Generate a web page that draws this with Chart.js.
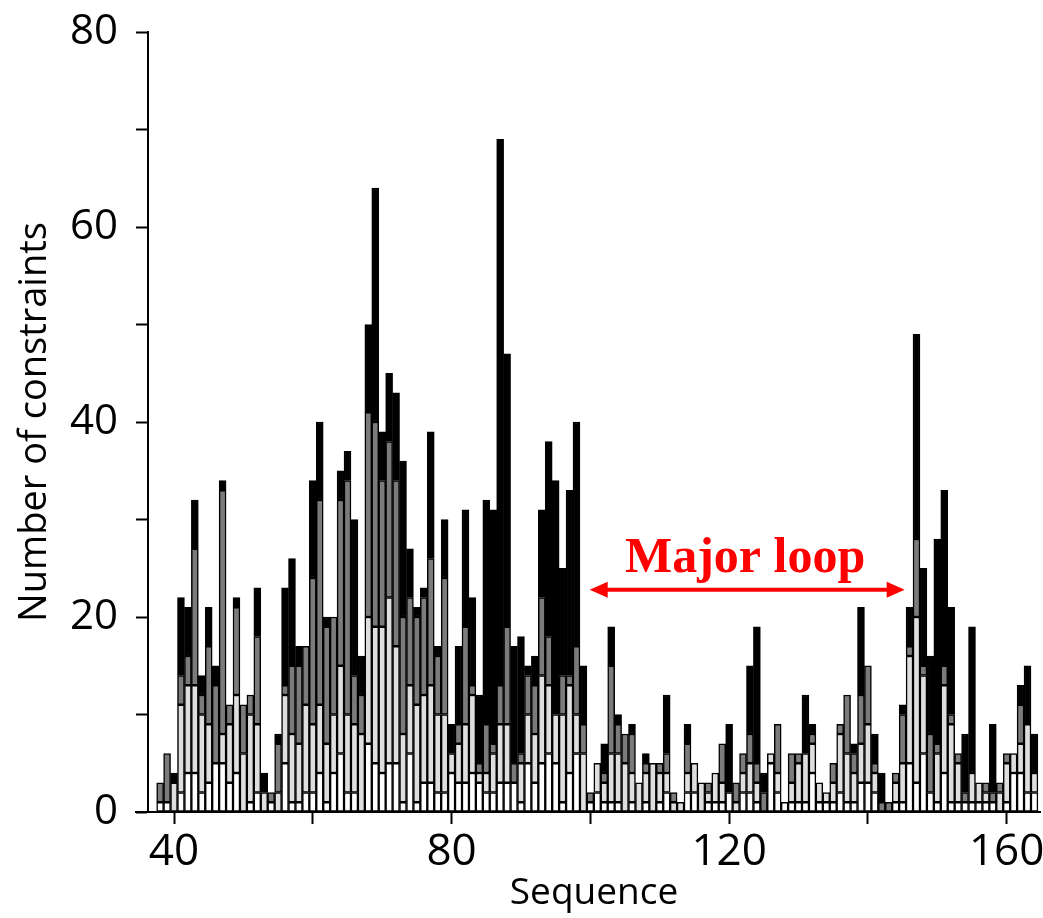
<!DOCTYPE html>
<html lang="en">
<head>
<meta charset="UTF-8" />
<title>Number of constraints per residue</title>
<script src="https://cdn.jsdelivr.net/npm/chart.js@4.4.0/dist/chart.umd.min.js"></script>
<style>
  html, body { margin: 0; padding: 0; background: #fff; }
</style>
</head>
<body>
<canvas id="constraintChart" width="1043" height="918"></canvas>
<script>
// residues 38..164, one value per residue in each class (bottom to top of the stack)
const firstResidue = 38;

const whitePart = [
  1, 1, 0, 2, 4, 4, 2, 3, 5, 5, 3, 4, 0, 1, 2, 0, 1, 0, 5, 1,   // 38-57
  1, 2, 2, 4, 1, 4, 6, 2, 2, 0, 7, 5, 4, 5, 5, 1, 6, 1, 3, 3,   // 58-77
  2, 2, 4, 3, 3, 4, 3, 2, 2, 3, 3, 3, 1, 5, 3, 5, 6, 5, 1, 4,   // 78-97
  6, 0, 1, 2, 1, 1, 1, 0, 1, 0, 1, 0, 1, 2, 0, 0, 2, 2, 0, 1,   // 98-117
  1, 1, 2, 0, 2, 2, 1, 0, 5, 2, 1, 1, 1, 1, 4, 1, 1, 1, 2, 1,   // 118-137
  1, 3, 3, 2, 0, 0, 1, 1, 5, 3, 6, 2, 1, 4, 1, 1, 1, 1, 1, 1,   // 138-157
  1, 0, 1, 4, 4, 2, 2                                           // 158-164
];
const lightPart = [
  0, 0, 3, 9, 9, 9, 8, 6, 0, 3, 6, 8, 6, 9, 7, 2, 0, 2, 7, 7,
  6, 9, 7, 7, 6, 6, 9, 8, 7, 8, 13, 14, 15, 17, 12, 7, 7, 10, 9, 10,
  8, 8, 2, 4, 6, 8, 1, 2, 4, 6, 6, 0, 4, 5, 5, 9, 7, 5, 9, 9,
  4, 6, 0, 3, 2, 5, 5, 5, 3, 3, 3, 5, 3, 2, 1, 1, 2, 3, 3, 1,
  3, 2, 0, 1, 2, 3, 2, 0, 1, 2, 0, 2, 4, 5, 3, 2, 1, 2, 6, 5,
  3, 4, 6, 2, 0, 0, 2, 4, 11, 17, 8, 0, 5, 9, 8, 4, 0, 3, 2, 1,
  0, 2, 4, 2, 3, 7, 2
];
const darkPart = [
  2, 5, 0, 3, 3, 14, 2, 8, 8, 25, 2, 9, 5, 2, 9, 0, 1, 5, 1, 7,
  8, 6, 15, 21, 12, 10, 17, 24, 5, 4, 21, 21, 15, 16, 17, 12, 9, 9, 10, 13,
  6, 14, 0, 2, 10, 1, 1, 5, 1, 4, 10, 2, 1, 4, 5, 8, 5, 0, 4, 1,
  7, 3, 1, 0, 1, 9, 3, 3, 4, 0, 1, 0, 1, 2, 1, 0, 3, 0, 0, 1,
  0, 4, 0, 2, 2, 3, 2, 2, 0, 5, 0, 3, 1, 0, 1, 0, 0, 2, 1, 6,
  2, 5, 6, 1, 1, 1, 1, 5, 1, 8, 1, 6, 1, 2, 1, 1, 1, 0, 0, 1,
  1, 1, 1, 0, 4, 0, 0
];
const blackPart = [
  0, 0, 1, 8, 5, 5, 2, 4, 2, 1, 0, 1, 0, 0, 5, 2, 0, 1, 10, 11,
  2, 0, 10, 8, 1, 0, 3, 3, 16, 4, 9, 24, 5, 7, 9, 16, 5, 1, 1, 13,
  1, 6, 3, 8, 12, 9, 7, 23, 24, 56, 28, 12, 12, 1, 3, 9, 20, 24, 11, 19,
  23, 6, 0, 0, 3, 4, 1, 0, 1, 0, 1, 0, 0, 6, 0, 0, 2, 0, 0, 0,
  0, 0, 7, 0, 0, 7, 14, 2, 0, 0, 0, 0, 0, 6, 1, 0, 0, 0, 0, 0,
  1, 9, 0, 3, 3, 0, 0, 1, 4, 21, 10, 8, 21, 18, 11, 0, 6, 15, 0, 0,
  7, 0, 0, 0, 2, 6, 4
];

const classNames = ["white", "light", "dark", "black"];
const classColors = ["#ffffff", "#dedede", "#7b7b7b", "#000000"];

// red "Major loop" marker (sequence / constraint units)
const loopStart = 99.9;
const loopEnd = 145.3;
const arrowLevel = 22.8;
const loopLabelAt = 122.3;
const loopLabelLevel = 24.6;

function toPoints(values) {
  return values.map((v, i) => ({ x: firstResidue + i, y: v }));
}

const loopArrow = {
  id: "loopArrow",
  afterDraw(chart) {
    const { ctx, chartArea } = chart;
    const xs = chart.scales.x;
    const ys = chart.scales.y;
    ctx.save();

    // x axis line runs a little past the y axis, as in the figure
    ctx.strokeStyle = "#000";
    ctx.lineWidth = 2;
    ctx.beginPath();
    ctx.moveTo(chartArea.left - 13, chartArea.bottom);
    ctx.lineTo(chartArea.left, chartArea.bottom);
    ctx.stroke();

    const x0 = xs.getPixelForValue(loopStart);
    const x1 = xs.getPixelForValue(loopEnd);
    const yy = ys.getPixelForValue(arrowLevel);
    ctx.strokeStyle = "#ff0000";
    ctx.fillStyle = "#ff0000";
    ctx.lineWidth = 4;
    ctx.beginPath();
    ctx.moveTo(x0 + 12, yy);
    ctx.lineTo(x1 - 12, yy);
    ctx.stroke();
    ctx.beginPath();
    ctx.moveTo(x0, yy);
    ctx.lineTo(x0 + 18, yy - 8);
    ctx.lineTo(x0 + 18, yy + 8);
    ctx.closePath();
    ctx.fill();
    ctx.beginPath();
    ctx.moveTo(x1, yy);
    ctx.lineTo(x1 - 18, yy - 8);
    ctx.lineTo(x1 - 18, yy + 8);
    ctx.closePath();
    ctx.fill();

    ctx.font = "bold 50px 'Liberation Serif'";
    ctx.textAlign = "center";
    ctx.textBaseline = "alphabetic";
    ctx.fillText("Major loop", xs.getPixelForValue(loopLabelAt), ys.getPixelForValue(loopLabelLevel));
    ctx.restore();
  }
};

const parts = [whitePart, lightPart, darkPart, blackPart];

const ctx = document.getElementById("constraintChart").getContext("2d");
const constraintChart = new Chart(ctx, {
  type: "bar",
  data: {
    datasets: parts.map((values, k) => ({
      label: classNames[k],
      data: toPoints(values),
      backgroundColor: classColors[k],
      borderColor: "#000000",
      borderWidth: 1.5,
      borderSkipped: false,
      barPercentage: 1,
      categoryPercentage: 1,
    })),
  },
  options: {
    responsive: false,
    animation: false,
    layout: { padding: { top: 32, right: 3, left: 0, bottom: 0 } },
    plugins: {
      legend: { display: false },
      tooltip: { enabled: false },
    },
    scales: {
      x: {
        type: "linear",
        stacked: true,
        offset: false,
        min: 36.25,
        max: 164.8,
        grid: {
          offset: false,
          drawOnChartArea: false,
          drawTicks: true,
          tickLength: 12,
          tickWidth: 2,
          tickColor: "#000",
        },
        border: { display: true, color: "#000", width: 2 },
        ticks: {
          stepSize: 20,
          includeBounds: false,
          autoSkip: false,
          maxRotation: 0,
          color: "#000",
          padding: 2,
          font: { family: "'Open Sans'", size: 44 },
          callback: (v) => (v % 40 === 0 ? String(v) : ""),
        },
        title: {
          display: true,
          text: "Sequence",
          color: "#000",
          font: { family: "'Open Sans'", size: 37 },
          padding: { top: 0, bottom: 2 },
        },
        afterFit: (scale) => {
          scale.height = 106;
          scale.paddingLeft = 0;
          scale.paddingRight = 0;
        },
      },
      y: {
        stacked: true,
        min: 0,
        max: 80,
        grid: {
          drawOnChartArea: false,
          drawTicks: true,
          tickLength: 12,
          tickWidth: 2,
          tickColor: "#000",
        },
        border: { display: true, color: "#000", width: 2 },
        ticks: {
          stepSize: 10,
          autoSkip: false,
          color: "#000",
          padding: 18,
          font: { family: "'Open Sans'", size: 42 },
          callback: (v) => (v % 20 === 0 ? String(v) : ""),
        },
        title: {
          display: true,
          text: "Number of constraints",
          color: "#000",
          font: { family: "'Open Sans'", size: 38 },
          padding: { top: 12, bottom: 0 },
        },
        afterFit: (scale) => {
          scale.width = 148;
          scale.paddingTop = 0;
          scale.paddingBottom = 0;
        },
      },
    },
  },
  plugins: [loopArrow],
});
</script>
</body>
</html>
